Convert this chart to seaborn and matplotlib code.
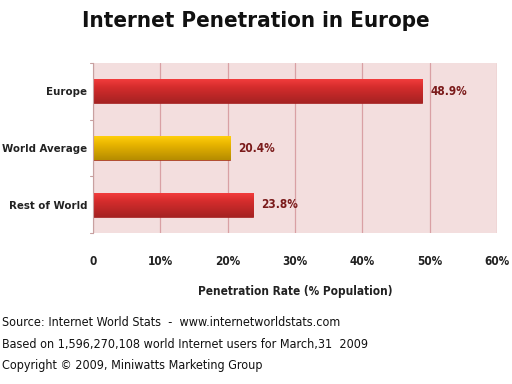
import matplotlib
matplotlib.use('Agg')
import matplotlib.pyplot as plt
import matplotlib.colors as mcolors
import numpy as np
import seaborn as sns
import pandas as pd

# data
regions = ['Europe', 'World Average', 'Rest of World']
penetration = [48.9, 20.4, 23.8]
bar_colors = ['#d42c2c', '#e8b400', '#d42c2c']
xticks = [0, 10, 20, 30, 40, 50, 60]
xtick_labels = ['0', '10%', '20%', '30%', '40%', '50%', '60%']

df = pd.DataFrame({'Region': regions, 'Rate': penetration})

sns.set_style('white')
plt.rcParams['font.family'] = ['DejaVu Sans']
plt.rcParams['font.stretch'] = 'condensed'

fig = plt.figure(figsize=(5.12, 3.84), dpi=100)
ax = fig.add_axes([0.1816, 0.393, 0.789, 0.443])
ax.set_facecolor('#f3dede')

sns.barplot(data=df, x='Rate', y='Region', hue='Region', palette=bar_colors,
            orient='h', width=0.42, saturation=1, edgecolor='#9a1c1c',
            linewidth=0.5, legend=False, ax=ax)

# shade each bar top-light to bottom-dark, like the original's 3D look
for patch in ax.patches:
    x0, y0 = patch.get_x(), patch.get_y()
    w, h = patch.get_width(), patch.get_height()
    base = np.array(mcolors.to_rgb(patch.get_facecolor()))
    light = np.clip(base * 1.08 + 0.05, 0, 1)
    dark = base * 0.78
    t = np.linspace(0, 1, 64)[:, None]
    grad = np.where(t < 0.35, light + (base - light) * (t / 0.35),
                    base + (dark - base) * ((t - 0.35) / 0.65))
    img = ax.imshow(grad[:, None, :], extent=(x0, x0 + w, y0 + h, y0),
                    aspect='auto', zorder=patch.get_zorder() + 0.1,
                    interpolation='bilinear')
    img.set_clip_path(patch)

ax.set_xlim(0, 60)
ax.set_ylim(2.5, -0.5)
ax.set_xticks(xticks)
ax.set_xticklabels(xtick_labels, fontsize=8.5, fontweight='bold', color='#222222')
ax.tick_params(axis='x', length=0, pad=16)
ax.tick_params(axis='y', length=0, pad=4, labelsize=8.2)
for lbl in ax.get_yticklabels():
    lbl.set_fontweight('bold')
    lbl.set_color('#222222')
ax.xaxis.grid(True, color='#d9a0a4', linewidth=0.9)
ax.set_axisbelow(True)
for s in ['top', 'right', 'bottom']:
    ax.spines[s].set_visible(False)
ax.spines['left'].set_color('#c8a0a0')

# small ticks at category boundaries on the left spine
for yb in [-0.5, 0.5, 1.5, 2.5]:
    ax.plot([-0.4, 0], [yb, yb], color='#c8a0a0', lw=0.8, clip_on=False)

for i, v in enumerate(penetration):
    ax.text(v + 1.2, i, f'{v}%', va='center', ha='left', fontsize=8.5,
            fontweight='bold', color='#7a1a1a')

ax.set_xlabel('Penetration Rate (% Population)', fontsize=8.5,
              fontweight='bold', color='#222222', labelpad=12)
ax.set_ylabel('')

fig.text(0.5, 0.945, 'Internet Penetration in Europe', ha='center', va='center',
         fontsize=16, fontweight='bold', color='#111111')

footer = ['Source: Internet World Stats  -  www.internetworldstats.com',
          'Based on 1,596,270,108 world Internet users for March,31  2009',
          'Copyright \u00a9 2009, Miniwatts Marketing Group']
for k, line in enumerate(footer):
    fig.text(0.004, 1 - (323 + 21.5 * k) / 384, line, ha='left', va='center',
             fontsize=9, color='#111111')

fig.savefig('out.png', dpi=100)
